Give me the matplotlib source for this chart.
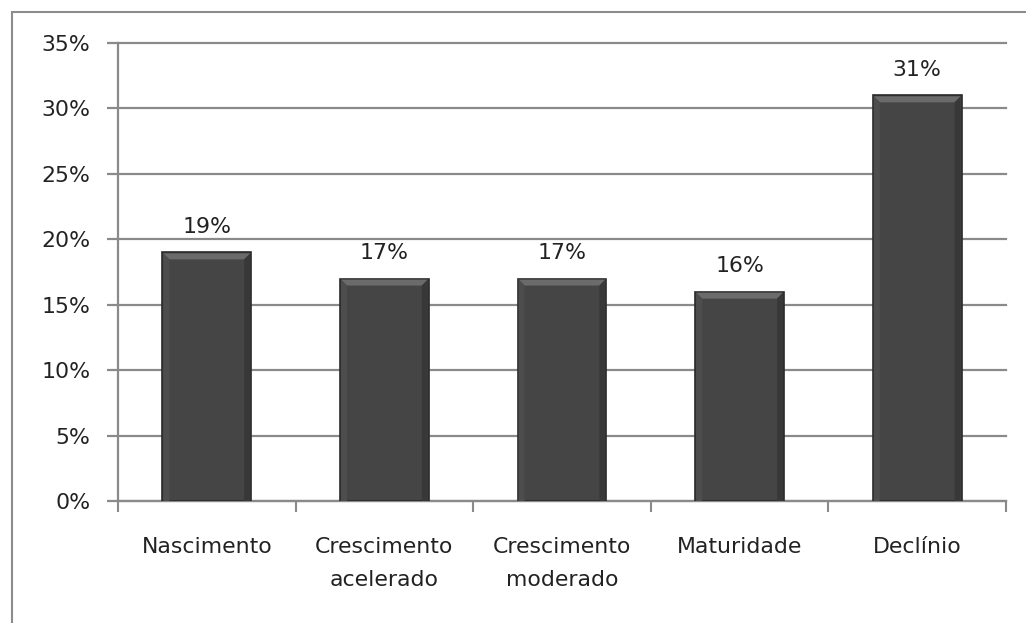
import numpy as np
import matplotlib.pyplot as plt
from matplotlib.patches import Rectangle, Polygon
from matplotlib.ticker import FixedLocator
from matplotlib.transforms import IdentityTransform

plt.rcParams["font.family"] = ["DejaVu Sans"]

etapas = ["Nascimento", "Crescimento\nacelerado", "Crescimento\nmoderado", "Maturidade", "Declínio"]
percentuais = [19, 17, 17, 16, 31]
yticks = [0, 5, 10, 15, 20, 25, 30, 35]

fs = 15.8

fig = plt.figure(figsize=(10.26, 6.23), dpi=100)
ax = fig.add_axes([118/1026, 1-501/623, (1006-118)/1026, (501-43)/623])

# outer chart frame
fig.patches.append(Rectangle((12/1026, -0.1), 1.2, (623-12)/623 + 0.1,
                             transform=fig.transFigure, fill=False,
                             edgecolor="#8c8c8c", linewidth=1.5))

x = np.arange(len(etapas))
bars = ax.bar(x, percentuais, width=0.5, color="#454545",
              edgecolor="#2a2a2a", linewidth=1.2, zorder=3)

ax.set_ylim(0, 35)
ax.set_xlim(-0.5, len(etapas) - 0.5)

# bevel on top of each bar
bev = 7
for b in bars:
    (px0, py0) = ax.transData.transform((b.get_x(), 0))
    (px1, py1) = ax.transData.transform((b.get_x() + b.get_width(), b.get_height()))
    top = Polygon([(px0 + 1, py1 - 1), (px1 - 1, py1 - 1), (px1 - bev, py1 - bev), (px0 + bev, py1 - bev)],
                  closed=True, facecolor="#6b6b6b", edgecolor="none",
                  transform=IdentityTransform(), zorder=4)
    left = Polygon([(px0 + 1, py1 - 1), (px0 + bev, py1 - bev), (px0 + bev, py0), (px0 + 1, py0)],
                   closed=True, facecolor="#4d4d4d", edgecolor="none",
                   transform=IdentityTransform(), zorder=4)
    right = Polygon([(px1 - 1, py1 - 1), (px1 - bev, py1 - bev), (px1 - bev, py0), (px1 - 1, py0)],
                    closed=True, facecolor="#383838", edgecolor="none",
                    transform=IdentityTransform(), zorder=4)
    for p in (top, left, right):
        fig.patches.append(p)

for b, v in zip(bars, percentuais):
    ax.annotate(f"{v}%", (b.get_x() + b.get_width()/2, v), xytext=(0, 11),
                textcoords="offset points", ha="center", va="bottom",
                fontsize=fs, color="#222222")

ax.set_yticks(yticks)
ax.set_yticklabels([f"{t}%" for t in yticks])
ax.yaxis.grid(True, color="#8a8a8a", linewidth=1.6, zorder=0)
for gl in ax.yaxis.get_gridlines():
    gl.set_clip_on(False)
ax.set_axisbelow(True)

ax.set_xticks(x)
ax.set_xticklabels(etapas)
ax.xaxis.set_minor_locator(FixedLocator(np.arange(-0.5, len(etapas), 1.0)))
ax.tick_params(axis="x", which="major", length=0, pad=26, labelsize=fs, colors="#222222")
ax.tick_params(axis="x", which="minor", length=8, width=1.5, color="#8a8a8a")
ax.tick_params(axis="y", length=8, width=1.6, color="#8a8a8a", pad=12,
               labelsize=fs, labelcolor="#222222")
for lbl in ax.get_xticklabels():
    lbl.set_linespacing(1.8)

for s in ["top", "right"]:
    ax.spines[s].set_visible(False)
for s in ["left", "bottom"]:
    ax.spines[s].set_color("#8a8a8a")
    ax.spines[s].set_linewidth(1.6)

fig.savefig("out.png", dpi=100)
